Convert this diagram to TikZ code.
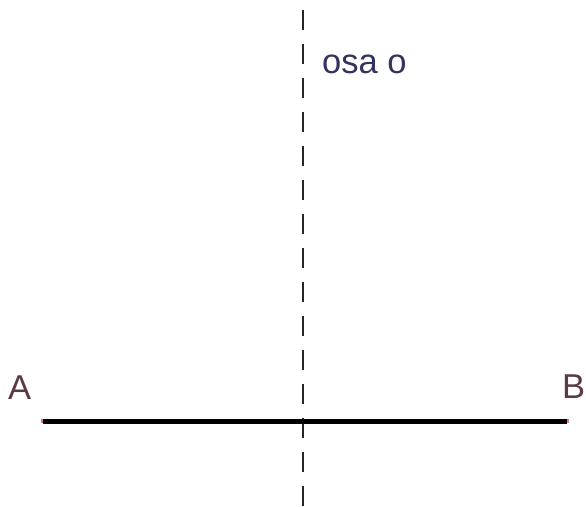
\documentclass[tikz,border=0pt]{standalone}
\usepackage{fontspec}
\setmainfont{Liberation Sans}
\definecolor{labred}{HTML}{5A3A48}
\definecolor{labblue}{HTML}{33335F}
\definecolor{endpink}{HTML}{E07090}
\tikzset{
  axis/.style={line width=1.3pt, dash pattern=on 20pt off 14pt, black!85},
  seg/.style={line width=5pt, black},
  lbl/.style={inner sep=0pt, anchor=base west, font=\fontsize{34.5}{38}\selectfont},
  endmark/.style={fill=endpink, inner sep=0pt, minimum size=4pt, shape=rectangle}
}
\begin{document}
\begin{tikzpicture}[x=1pt,y=-1pt]
\useasboundingbox[fill=white] (0,0) rectangle (586,506);
\coordinate (top) at (303,10);
\coordinate (bot) at (303,506);
\draw[axis] (top) -- (bot);
\node[lbl, text=labblue] (osa) at (322,73) {osa o};
\node[endmark] (a) at (43,421) {};
\node[endmark] (b) at (567,421) {};
\draw[seg] (a.center) -- (b.center);
\node[lbl, text=labred] (la) at (8,399) {A};
\node[lbl, text=labred] (lb) at (562,398) {B};
\end{tikzpicture}
\end{document}
